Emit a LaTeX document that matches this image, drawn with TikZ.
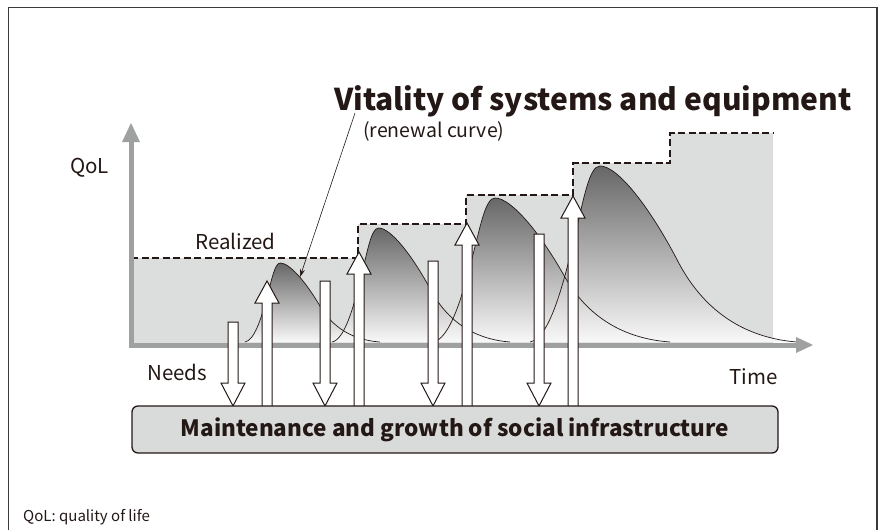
\documentclass[tikz,border=0pt]{standalone}
\usepackage{fontspec}
\setmainfont{Noto Sans CJK JP}
\usetikzlibrary{arrows.meta}
\definecolor{ink}{HTML}{231815}
\definecolor{axisgray}{HTML}{9FA0A0}
\definecolor{areagray}{HTML}{DCDDDD}
\definecolor{boxgray}{HTML}{D9DADA}
\definecolor{framegray}{HTML}{3E3A39}
\definecolor{shadetop}{HTML}{676767}
\definecolor{shadebot}{HTML}{F8F8F8}
% renewal curve: start x, length, height (baseline y = 342)
\newcommand\rcpath[3]{({#1},342)
 .. controls ({#1+0.07*#2},{342-0.02*#3}) and ({#1+0.12*#2},{342-0.3*#3}) .. ({#1+0.16*#2},{342-0.55*#3})
 .. controls ({#1+0.2*#2},{342-0.8*#3}) and ({#1+0.22*#2},{342-#3}) .. ({#1+0.262*#2},{342-#3})
 .. controls ({#1+0.33*#2},{342-#3}) and ({#1+0.45*#2},{342-0.76*#3}) .. ({#1+0.55*#2},{342-0.47*#3})
 .. controls ({#1+0.62*#2},{342-0.26*#3}) and ({#1+0.75*#2},{342-0.03*#3}) .. ({#1+#2},342)}
\newcommand\uparr[2]{\filldraw[blockarrow] ({#1-5},406.5) -- ({#1-5},{#2+22}) -- ({#1-12},{#2+22}) -- ({#1},{#2}) -- ({#1+12},{#2+22}) -- ({#1+5},{#2+22}) -- ({#1+5},406.5);}
\newcommand\downarr[2]{\filldraw[blockarrow] ({#1-5},{#2}) -- ({#1+5},{#2}) -- ({#1+5},383) -- ({#1+12},383) -- ({#1},406) -- ({#1-12},383) -- ({#1-5},383) -- cycle;}
\begin{document}
\begin{tikzpicture}[x=1pt,y=-1pt,
  lbl/.style={text=ink, inner sep=0pt, font=\fontsize{20.5}{20.5}\selectfont},
  blockarrow/.style={fill=white, draw=ink, line width=1pt, line join=miter},
  curveline/.style={draw=ink, line width=0.7pt},
  curvefill/.style={top color=shadetop, bottom color=shadebot},
  infra/.style={draw=ink, fill=boxgray, line width=1.3pt, rounded corners=6pt,
    minimum width=646pt, minimum height=47pt, inner sep=0pt, text=ink,
    font=\bfseries\fontsize{22.5}{22.5}\selectfont},
  axis/.style={axisgray, line width=5pt}]
\useasboundingbox (0,0) rectangle (878,530);
% frame
\draw[framegray, line width=1.3pt] (8.5,532) -- (8.5,7.5) -- (877,7.5) -- (877,532);
% realized area
\fill[areagray] (131,344) -- (131,258) -- (358,258) -- (358,224) -- (466,224) -- (466,195)
  -- (573,195) -- (573,163) -- (670,163) -- (670,133) -- (773,133) -- (773,344) -- cycle;
% renewal curves
\shade[curvefill] \rcpath{245}{135}{79} -- cycle;
\shade[curvefill] \rcpath{332}{178}{114} -- cycle;
\shade[curvefill] \rcpath{433}{237}{144} -- cycle;
\shade[curvefill] \rcpath{530}{267}{176} -- cycle;
\draw[curveline] \rcpath{245}{135}{79};
\draw[curveline] \rcpath{332}{178}{114};
\draw[curveline] \rcpath{433}{237}{144};
\draw[curveline] \rcpath{530}{267}{176};
% realized level (dashed)
\draw[ink, line width=2.5pt, dash pattern=on 7pt off 3.5pt] (131,258) -- (358,258) -- (358,224) -- (466,224)
  -- (466,195) -- (573,195) -- (573,163) -- (670,163) -- (670,133) -- (773,133);
% axes
\coordinate (O) at (131,345);
\coordinate (ytip) at (131,123);
\coordinate (xtip) at (813,345);
\draw[axis] (131,347.5) -- (131,141);
\fill[axisgray] (122,142) -- (ytip) -- (140,142) -- cycle;
\draw[axis] (128.5,345) -- (797,345);
\fill[axisgray] (796,337) -- (xtip) -- (796,353) -- cycle;
% leader to curve
\coordinate (leadtop) at (355,113);
\coordinate (leadtip) at (300,277);
\draw[ink, line width=0.6pt, -{Stealth[length=8pt,width=5pt]}] (leadtop) -- (leadtip);
% needs (down) and supply (up) arrows
\downarr{233}{322}
\downarr{325}{281}
\downarr{433}{261}
\downarr{539}{234}
\uparr{267}{281}
\uparr{359}{252}
\uparr{467}{223}
\uparr{573}{196}
% infrastructure box
\node[infra] (infra) at (455,429.5) {Maintenance and growth of social infrastructure};
% labels
\node[lbl, anchor=base west, font=\bfseries\fontsize{30}{30}\selectfont] (title) at (334,110) {Vitality of systems and equipment};
\node[lbl, anchor=base west, font=\fontsize{19.5}{19.5}\selectfont] (renew) at (363,137) {(renewal curve)};
\node[lbl, anchor=base west] (qol) at (70,173) {QoL};
\node[lbl, anchor=base west] (realized) at (195,249) {Realized};
\node[lbl, anchor=base west] (needs) at (147,380) {Needs};
\node[lbl, anchor=base west] (time) at (729,384) {Time};
\node[lbl, anchor=base west, font=\fontsize{15}{15}\selectfont] (foot) at (23,521) {QoL: quality of life};
\end{tikzpicture}
\end{document}
